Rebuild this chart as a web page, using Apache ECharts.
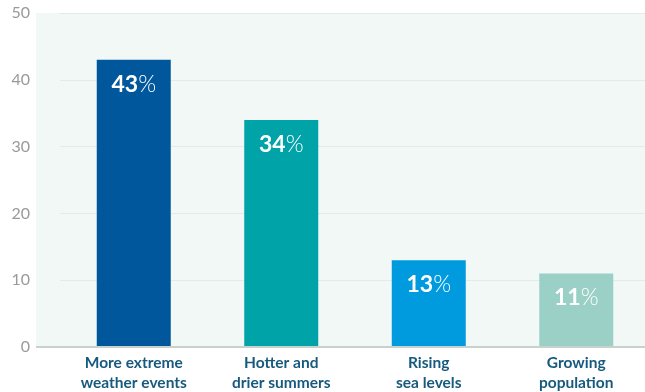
<!DOCTYPE html>
<html><head><meta charset="utf-8">
<script src="https://cdn.jsdelivr.net/npm/echarts@6/dist/echarts.min.js"></script>
<style>html,body{margin:0;padding:0;background:#fff;overflow:hidden}#c{width:660px;height:392px}</style>
</head><body><div id="c"></div>
<script>
const categories = ['More extreme\nweather events', 'Hotter and\ndrier summers', 'Rising\nsea levels', 'Growing\npopulation'];
const values = [43, 34, 13, 11];
const barColors = ['#00579c', '#00a3a8', '#009bde', '#9ad0c6'];
const yTicks = [0, 10, 20, 30, 40, 50];

const chart = echarts.init(document.getElementById('c'), null, {renderer: 'canvas'});
chart.setOption({
  animation: false,
  graphic: [{
    type: 'rect', z: -10, silent: true,
    shape: {x: 36, y: 13, width: 624, height: 334},
    style: {fill: '#f2f8f6'}
  }],
  grid: {left: 60, width: 590, top: 13, bottom: 45, containLabel: false, outerBoundsMode: 'none'},
  xAxis: {
    type: 'category', data: categories,
    axisLine: {show: false},
    axisTick: {show: false},
    axisLabel: {color: '#175a7e', fontFamily: 'Lato', fontWeight: 'bold', fontSize: 15.5, lineHeight: 20, margin: 6}
  },
  yAxis: {
    type: 'value', min: yTicks[0], max: yTicks[yTicks.length - 1], interval: 10,
    axisLine: {show: false}, axisTick: {show: false},
    axisLabel: {color: '#9a9a9a', fontFamily: 'Lato', fontSize: 16, margin: 30, align: 'right'},
    splitLine: {lineStyle: {color: '#e2ebe8', width: 1}}
  },
  series: [{
    type: 'bar', barWidth: 74,
    data: values.map((v, i) => ({value: v, itemStyle: {color: barColors[i]}})),
    label: {
      show: true, position: 'insideTop', distance: 13,
      formatter: p => '{n|' + p.value + '}{p|%}',
      rich: {
        n: {color: '#fff', fontFamily: 'Lato', fontWeight: 'bold', fontSize: 23},
        p: {color: '#fff', fontFamily: 'Lato', fontWeight: 300, fontSize: 23}
      }
    }
  }, {
    type: 'line', data: [], silent: true,
    markLine: {
      silent: true, symbol: 'none', label: {show: false},
      lineStyle: {color: '#c9d1ce', width: 2, type: 'solid'},
      data: [[{coord: [0, 0], x: 36}, {coord: [3, 0], x: 660}]]
    }
  }]
});
</script></body></html>
